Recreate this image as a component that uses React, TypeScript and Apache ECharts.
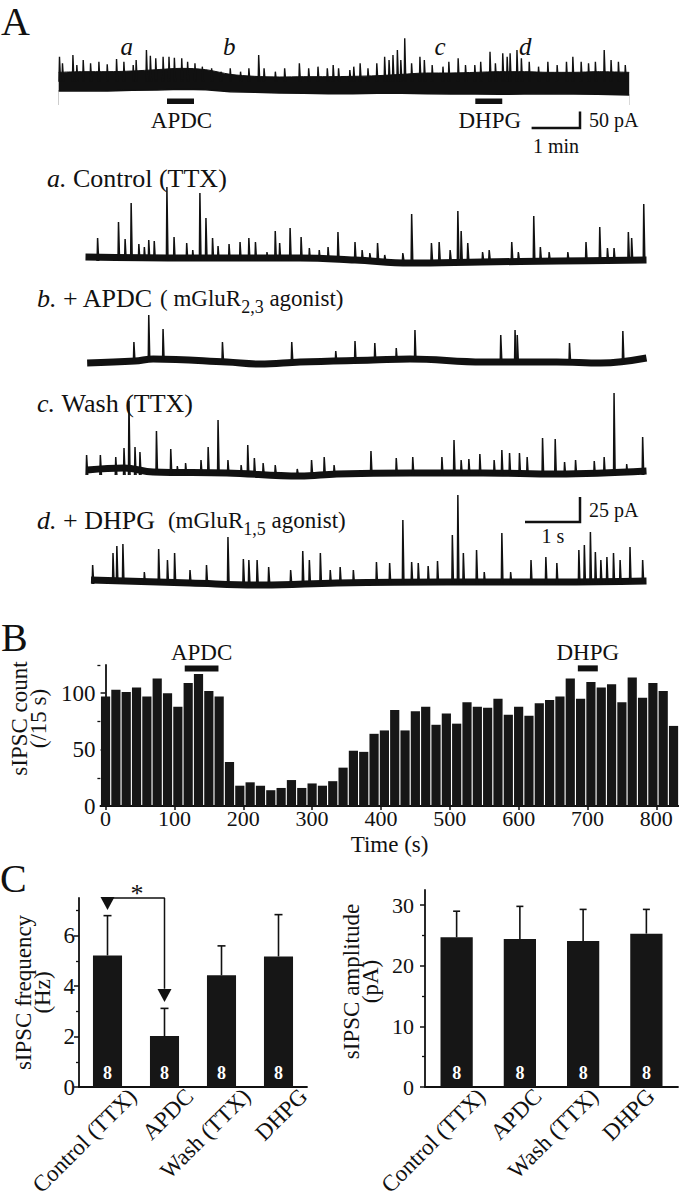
import React, { useEffect, useRef } from "react";
import * as echarts from "echarts";

const SERIF = "'Liberation Serif', 'Times New Roman', Times, serif";
const INK = "#111111";

// ---------------- Panel A: overview trace (time in min, amplitude in pA) ----------------
const overviewTime = [0, 0.5, 1, 1.5, 2, 2.5, 3, 3.5, 4, 4.5, 5, 5.5, 6, 6.5, 7, 7.5, 8, 8.5, 9, 9.5, 10, 10.5, 11, 11.64];
const overviewUpper = [68, 70, 70, 72, 76, 80, 76, 62, 56, 54, 55, 55, 56, 58, 62, 66, 66, 68, 70, 70, 68, 68, 70, 68];
const overviewLower = [12, 13, 12, 14, 15, 17, 16, 10, 8, 6, 5, 4, 4, 5, 5, 4, 3, 3, 2, 3, 4, 3, 2, 0];
const overviewSpikes = [
  [0.016, 115], [0.077, 95], [0.29, 120], [0.37, 90], [0.5, 105], [0.65, 95], [0.82, 100], [0.99, 92],
  [1.18, 108], [1.33, 100], [1.52, 90], [1.58, 105], [1.79, 135], [1.87, 118], [1.98, 110], [2.13, 115],
  [2.25, 115], [2.36, 112], [2.51, 110], [2.63, 100], [2.78, 95], [2.93, 85], [3.12, 80], [3.31, 70],
  [3.5, 80], [3.71, 70], [3.88, 80], [4.08, 120], [4.19, 80], [4.42, 70], [4.61, 80], [4.91, 95],
  [5.1, 80], [5.29, 85], [5.48, 80], [5.6, 90], [5.71, 80], [5.94, 75], [6.02, 85], [6.15, 95],
  [6.31, 80], [6.49, 95], [6.65, 115], [6.74, 105], [6.82, 120], [6.91, 135], [6.98, 105], [7.06, 170],
  [7.2, 95], [7.37, 115], [7.46, 105], [7.62, 90], [7.84, 85], [7.96, 100], [8.15, 110], [8.3, 90],
  [8.49, 90], [8.61, 100], [8.8, 130], [8.91, 95], [9.06, 125], [9.15, 115], [9.21, 125], [9.35, 135],
  [9.44, 110], [9.6, 100], [9.79, 85], [9.98, 100], [10.17, 90], [10.36, 100], [10.49, 115], [10.66, 100],
  [10.81, 95], [10.95, 100], [11.13, 135], [11.27, 105], [11.42, 100], [11.56, 90],
];
const overviewDrugNames = ["APDC", "DHPG"];
const overviewDrugStart = [2.21, 8.5];
const overviewDrugEnd = [2.76, 9.05];
const overviewMarks = ["a", "b", "c", "d"];
const overviewMarkTime = [1.39, 3.48, 7.78, 9.52];

// ---------------- Panel A: sweeps (time in s, amplitude in pA) ----------------
const sweepATime = [0, 1.9, 3.9, 4.9, 5.9, 7.2, 8.6, 10.2];
const sweepABase = [2, 1, 1, -1, -4, -3, -2, -1];
const sweepASpikes = [
  [0.22, 21], [0.6, 37], [0.72, 20], [0.83, 56], [0.97, 15], [1.07, 12], [1.15, 19], [1.25, 18], [1.48, 72],
  [1.61, 22], [1.84, 16], [1.95, 9], [2.08, 66], [2.19, 41], [2.31, 21], [2.41, 13], [2.61, 15], [2.81, 17],
  [2.97, 21], [3.09, 17], [3.3, 7], [3.45, 28], [3.53, 16], [3.72, 31], [3.92, 22], [4.07, 11], [4.25, 9],
  [4.41, 12], [4.59, 27], [4.9, 17], [5.03, 9], [5.17, 6], [5.31, 16], [5.44, 4], [5.77, 6], [5.93, 45],
  [6.29, 16], [6.43, 17], [6.63, 9], [6.77, 48], [6.83, 28], [6.95, 16], [7.22, 7], [7.34, 9], [7.75, 17],
  [7.87, 7], [8.15, 43], [8.27, 12], [8.43, 7], [8.77, 7], [9.1, 17], [9.35, 32], [9.49, 11], [9.61, 11],
  [9.87, 27], [9.93, 21], [10.15, 55],
];
const sweepBTime = [0.03, 0.9, 1.23, 2.57, 3.17, 3.9, 5.23, 5.9, 7.23, 8.57, 9.37, 10.2];
const sweepBBase = [-3, -1, 1, -2, -4, -2, 0, 1, -2, -2, -3, 2];
const sweepBSpikes = [
  [0.88, 18], [1.15, 45], [1.41, 31], [2.49, 18], [3.75, 18], [4.55, 9], [4.9, 19], [5.26, 17],
  [5.65, 12], [5.99, 30], [7.55, 25], [7.81, 30], [7.85, 25], [8.8, 17], [9.77, 29],
];
const sweepCTime = [0.03, 0.7, 1.23, 2.57, 3.9, 4.57, 5.9, 7.23, 8.57, 10.2];
const sweepCBase = [3, 5, 1, 0, -3, -1, 0, 0, -1, 2];
const sweepCSpikes = [
  [0.02, 18], [0.27, 18], [0.55, 16], [0.7, 25], [0.79, 72], [0.9, 26], [0.99, 21], [1.29, 42], [1.55, 24],
  [1.67, 7], [1.82, 10], [2.1, 13], [2.23, 26], [2.41, 53], [2.59, 13], [2.83, 8], [2.95, 28], [3.07, 15],
  [3.23, 10], [3.45, 8], [3.85, 4], [4.11, 13], [4.34, 16], [4.52, 8], [5.19, 22], [5.65, 15], [5.95, 16],
  [6.48, 16], [6.7, 33], [6.83, 13], [6.97, 14], [7.17, 19], [7.43, 13], [7.57, 23], [7.71, 20], [7.89, 20],
  [8.03, 16], [8.31, 35], [8.54, 34], [8.71, 11], [8.91, 13], [9.25, 12], [9.43, 16], [9.61, 80], [9.84, 9],
  [10.13, 36],
];
const sweepDTime = [0.1, 1.9, 3.23, 4.57, 6.57, 8.57, 10.2];
const sweepDBase = [2, -1, -3, -1, 0, 0, 1];
const sweepDSpikes = [
  [0.13, 17], [0.5, 29], [0.57, 36], [0.68, 38], [1.07, 10], [1.33, 33], [1.49, 22], [1.62, 29], [1.9, 12],
  [2.2, 17], [2.59, 45], [2.87, 23], [2.97, 22], [3.12, 22], [3.33, 15], [3.73, 12], [3.95, 31], [4.07, 22],
  [4.27, 29], [4.45, 12], [4.63, 15], [4.87, 12], [5.29, 20], [5.53, 19], [5.77, 62], [5.93, 20], [6.05, 19],
  [6.23, 16], [6.4, 21], [6.67, 47], [6.77, 87], [6.87, 29], [7.11, 32], [7.25, 10], [7.57, 49], [7.73, 10],
  [8.1, 22], [8.37, 25], [8.57, 19], [8.97, 32], [9.07, 37], [9.18, 50], [9.27, 30], [9.37, 22], [9.48, 25],
  [9.6, 29], [9.72, 22], [9.9, 35], [10.13, 22],
];

// ---------------- Panel B: histogram ----------------
const binCenters = [
  0, 15, 30, 45, 60, 75, 90, 105, 120, 135, 150, 165, 180, 195, 210, 225, 240, 255, 270, 285, 300, 315, 330, 345,
  360, 375, 390, 405, 420, 435, 450, 465, 480, 495, 510, 525, 540, 555, 570, 585, 600, 615, 630, 645, 660, 675,
  690, 705, 720, 735, 750, 765, 780, 795, 810, 825,
];
const binCounts = [
  97, 103, 101, 105, 97, 113, 100, 88, 109, 117, 102, 97, 39, 18, 21, 18, 14, 16, 23, 16, 20, 18, 22, 34,
  49, 48, 64, 67, 85, 67, 84, 88, 72, 82, 73, 92, 88, 87, 95, 81, 88, 80, 91, 94, 97, 113, 95, 110, 105, 108,
  92, 114, 96, 109, 102, 71,
];
const timeTicks = [0, 100, 200, 300, 400, 500, 600, 700, 800];
const countTicks = [0, 50, 100];
const countMinorTicks = [25, 75, 125];
const drugNamesB = ["APDC", "DHPG"];
const drugStartB = [115, 686];
const drugEndB = [164, 715];

// ---------------- Panel C ----------------
const conditions = ["Control (TTX)", "APDC", "Wash (TTX)", "DHPG"];
const freqMean = [5.22, 2.02, 4.43, 5.18];
const freqSem = [1.58, 1.1, 1.17, 1.66];
const ampMean = [24.7, 24.4, 24.1, 25.3];
const ampSem = [4.3, 5.4, 5.2, 4.0];
const nCells = [8, 8, 8, 8];
const freqTicks = [0, 2, 4, 6];
const freqMinorTicks = [1, 3, 5, 7];
const ampTicks = [0, 10, 20, 30];
const ampMinorTicks = [5, 15, 25];
const sigPair = [0, 1];

// ---------------- helpers ----------------
const zip = (xs: number[], ys: number[]) => xs.map((x, i) => [x, ys[i]]);

function spikeSeries(xi: number, data: number[][], foot: number, width: number) {
  return {
    type: "custom",
    xAxisIndex: xi,
    yAxisIndex: xi,
    clip: false,
    silent: true,
    z: 4,
    data,
    renderItem: (_p: any, api: any) => {
      const t = api.value(0);
      const peak = api.value(1);
      const a = api.coord([t, foot]);
      const b = api.coord([t, peak]);
      return {
        type: "polyline",
        shape: { points: [[a[0] - 0.5, a[1]], [b[0], b[1]], [b[0] + 1.1, a[1]]] },
        style: { stroke: INK, lineWidth: width, fill: null },
      };
    },
  };
}

function baseSeries(xi: number, t: number[], v: number[], width: number) {
  return {
    type: "line",
    xAxisIndex: xi,
    yAxisIndex: xi,
    data: zip(t, v),
    symbol: "none",
    smooth: 0.4,
    silent: true,
    lineStyle: { color: INK, width, join: "round" },
  };
}

function errSeries(xi: number, mean: number[], sem: number[], cap: number) {
  return {
    type: "custom",
    xAxisIndex: xi,
    yAxisIndex: xi,
    clip: false,
    silent: true,
    z: 3,
    data: mean.map((m, i) => [i, m, sem[i]]),
    renderItem: (_p: any, api: any) => {
      const i = api.value(0);
      const m = api.value(1);
      const e = api.value(2);
      const b = api.coord([i, m]);
      const t = api.coord([i, m + e]);
      return {
        type: "group",
        children: [
          { type: "line", shape: { x1: b[0], y1: b[1], x2: t[0], y2: t[1] }, style: { stroke: INK, lineWidth: 1.6 } },
          { type: "line", shape: { x1: t[0] - cap, y1: t[1], x2: t[0] + cap, y2: t[1] }, style: { stroke: INK, lineWidth: 1.6 } },
        ],
      };
    },
  };
}

const axisLineStyle = { color: INK, width: 1.8 };
const labelFont = { fontFamily: SERIF, color: INK };

function hiddenAxes(i: number, xmin: number, xmax: number, ymin: number, ymax: number) {
  return {
    x: { type: "value", gridIndex: i, min: xmin, max: xmax, show: false },
    y: { type: "value", gridIndex: i, min: ymin, max: ymax, show: false },
  };
}

function txt(text: string, x: number, y: number, size: number, opts: any = {}) {
  const style = opts.italic ? "italic " : "";
  const weight = opts.bold ? "bold " : "";
  const align = opts.align || "left";
  const valign = opts.valign || "middle";
  return {
    type: "text",
    x,
    y,
    silent: true,
    style: {
      text,
      font: `${style}${weight}${size}px ${SERIF}`,
      fill: opts.fill || INK,
      align,
      verticalAlign: valign,
      textAlign: align,
      textVerticalAlign: valign,
    },
  };
}

const richStyles = {
  i: { fontFamily: SERIF, fontStyle: "italic", fontSize: 26, lineHeight: 26, color: INK },
  m: { fontFamily: SERIF, fontSize: 26, lineHeight: 26, color: INK },
  s: { fontFamily: SERIF, fontSize: 23, lineHeight: 26, color: INK },
  sub: { fontFamily: SERIF, fontSize: 18, lineHeight: 18, padding: [17, 0, 0, 0], color: INK },
};

function richTxt(text: string, x: number, y: number) {
  return {
    type: "text",
    x,
    y,
    silent: true,
    style: {
      text,
      rich: richStyles,
      font: `26px ${SERIF}`,
      fill: INK,
      align: "left",
      verticalAlign: "middle",
      textAlign: "left",
      textVerticalAlign: "middle",
    },
  };
}

function buildOption() {
  const ov = hiddenAxes(0, 0, 11.64, -30, 180);
  const sa = hiddenAxes(1, 0, 10.2, -15, 80);
  const sb = hiddenAxes(2, 0, 10.2, -15, 50);
  const sc = hiddenAxes(3, 0, 10.2, -15, 85);
  const sd = hiddenAxes(4, 0, 10.2, -15, 90);

  const catAxisBars = (gi: number) => ({
    type: "category",
    gridIndex: gi,
    data: conditions,
    boundaryGap: true,
    axisLine: { lineStyle: axisLineStyle },
    axisTick: { show: false },
    axisLabel: { show: false },
  });
  const catAxisLabels = (gi: number) => ({
    type: "category",
    gridIndex: gi,
    data: conditions,
    boundaryGap: true,
    axisLine: { show: false },
    axisTick: { show: false },
    axisLabel: { interval: 0, rotate: 45, margin: 9, fontSize: 23, ...labelFont },
  });

  const valueY = (gi: number, max: number, ticks: number[], margin: number, name: string, nameGap: number, namePad: number[], size: number) => ({
    type: "value",
    gridIndex: gi,
    min: 0,
    max,
    splitLine: { show: false },
    axisLine: { show: true, lineStyle: axisLineStyle },
    axisTick: { show: true, customValues: ticks, length: 5, lineStyle: { color: INK, width: 1.5 } },
    axisLabel: { customValues: ticks, margin, fontSize: size, ...labelFont },
    name,
    nameLocation: "middle",
    nameRotate: 90,
    nameGap,
    nameTextStyle: { fontSize: 23, lineHeight: 19, padding: namePad, ...labelFont },
  });
  const minorY = (gi: number, max: number, ticks: number[]) => ({
    type: "value",
    gridIndex: gi,
    min: 0,
    max,
    position: "left",
    splitLine: { show: false },
    axisLine: { show: false },
    axisTick: { show: true, customValues: ticks, length: 3, lineStyle: { color: INK, width: 1.3 } },
    axisLabel: { show: false },
  });

  return {
    animation: false,
    backgroundColor: "#ffffff",
    grid: [
      { left: 58.7, top: 35, width: 570.5, height: 70 },
      { left: 85.5, top: 179, width: 561, height: 95 },
      { left: 85.5, top: 310, width: 561, height: 65 },
      { left: 85.5, top: 388, width: 561, height: 100 },
      { left: 85.5, top: 492, width: 561, height: 105 },
      { left: 89.7, top: 665, width: 589, height: 141 },
      { left: 79, top: 898, width: 228, height: 189 },
      { left: 425, top: 890, width: 253, height: 197 },
      { left: 104, top: 898, width: 228, height: 189 },
      { left: 453, top: 890, width: 253, height: 197 },
    ],
    xAxis: [
      ov.x, sa.x, sb.x, sc.x, sd.x,
      {
        type: "value",
        gridIndex: 5,
        min: -7.5,
        max: 832.5,
        splitLine: { show: false },
        axisLine: { lineStyle: axisLineStyle },
        axisTick: { customValues: timeTicks, length: 4, lineStyle: { color: INK, width: 1.5 } },
        axisLabel: { customValues: timeTicks, margin: 1, fontSize: 22, ...labelFont },
        name: "Time (s)",
        nameLocation: "middle",
        nameGap: 27,
        nameTextStyle: { fontSize: 23, ...labelFont },
      },
      catAxisBars(6),
      catAxisBars(7),
      catAxisLabels(8),
      catAxisLabels(9),
    ],
    yAxis: [
      ov.y, sa.y, sb.y, sc.y, sd.y,
      valueY(5, 125, countTicks, 5, "sIPSC count\n(/15 s)", 36, [0, 0, 0, 34], 23),
      valueY(6, 7.5, freqTicks, 4, "sIPSC frequency\n(Hz)", 27, [0, 0, 0, 0], 23),
      valueY(7, 32.5, ampTicks, 11, "sIPSC amplitude\n(pA)", 45, [0, 0, 0, 14], 22),
      { type: "value", gridIndex: 8, show: false, min: 0, max: 7.5 },
      { type: "value", gridIndex: 9, show: false, min: 0, max: 32.5 },
      minorY(5, 125, countMinorTicks),
      minorY(6, 7.5, freqMinorTicks),
      minorY(7, 32.5, ampMinorTicks),
    ],
    series: [
      // overview band
      {
        type: "line", xAxisIndex: 0, yAxisIndex: 0, symbol: "none", silent: true, z: 1, smooth: 0.3,
        data: zip(overviewTime, overviewUpper),
        lineStyle: { color: INK, width: 1 },
        areaStyle: { color: INK, opacity: 1, origin: "start" },
      },
      {
        type: "line", xAxisIndex: 0, yAxisIndex: 0, symbol: "none", silent: true, z: 2,
        data: zip(overviewTime, overviewLower),
        lineStyle: { color: INK, width: 1.5 },
        areaStyle: { color: "#ffffff", opacity: 1, origin: "start" },
      },
      spikeSeries(0, overviewSpikes, 40, 1.4),
      {
        type: "custom", xAxisIndex: 0, yAxisIndex: 0, clip: false, silent: true, z: 10,
        data: overviewDrugStart.map((s, i) => [s, overviewDrugEnd[i]]),
        renderItem: (p: any, api: any) => {
          const a = api.coord([api.value(0), -18]);
          const b = api.coord([api.value(1), -18]);
          return {
            type: "group",
            children: [
              { type: "rect", shape: { x: a[0], y: a[1] - 2.5, width: b[0] - a[0], height: 5.5 }, style: { fill: INK } },
              txt(overviewDrugNames[p.dataIndex], (a[0] + b[0]) / 2 + 1, a[1] + 19, 23, { align: "center" }),
            ],
          };
        },
      },
      {
        type: "custom", xAxisIndex: 0, yAxisIndex: 0, clip: false, silent: true, z: 10,
        data: overviewMarkTime.map((t) => [t, 146]),
        renderItem: (p: any, api: any) => {
          const a = api.coord([api.value(0), api.value(1)]);
          return txt(overviewMarks[p.dataIndex], a[0], a[1], 25, { italic: true, align: "center" });
        },
      },
      // sweeps
      baseSeries(1, sweepATime, sweepABase, 7),
      spikeSeries(1, sweepASpikes, -2, 1.5),
      baseSeries(2, sweepBTime, sweepBBase, 7),
      spikeSeries(2, sweepBSpikes, -2, 1.5),
      baseSeries(3, sweepCTime, sweepCBase, 7),
      spikeSeries(3, sweepCSpikes, -2, 1.5),
      baseSeries(4, sweepDTime, sweepDBase, 7),
      spikeSeries(4, sweepDSpikes, -2, 1.5),
      // B
      {
        type: "bar", xAxisIndex: 5, yAxisIndex: 5, silent: true,
        data: zip(binCenters, binCounts),
        barWidth: 9.2,
        itemStyle: { color: "#161616" },
      },
      {
        type: "custom", xAxisIndex: 5, yAxisIndex: 5, clip: false, silent: true, z: 5,
        data: drugStartB.map((s, i) => [s, drugEndB[i]]),
        renderItem: (p: any, api: any) => {
          const a = api.coord([api.value(0), 122]);
          const b = api.coord([api.value(1), 122]);
          return {
            type: "group",
            children: [
              { type: "rect", shape: { x: a[0], y: a[1] - 3, width: b[0] - a[0], height: 6 }, style: { fill: INK } },
              txt(drugNamesB[p.dataIndex], (a[0] + b[0]) / 2, a[1] - 16, 23, { align: "center" }),
            ],
          };
        },
      },
      // C frequency
      {
        type: "bar", xAxisIndex: 6, yAxisIndex: 6, silent: true,
        data: freqMean,
        barWidth: "51%",
        itemStyle: { color: "#161616" },
        label: {
          show: true, position: "insideBottom", distance: 5,
          formatter: (p: any) => String(nCells[p.dataIndex]),
          color: "#ffffff", fontWeight: "bold", fontSize: 18, fontFamily: SERIF,
        },
      },
      errSeries(6, freqMean, freqSem, 4),
      {
        type: "line", xAxisIndex: 6, yAxisIndex: 6, symbol: "none", silent: true, clip: false,
        data: [[sigPair[0], 7.5], [sigPair[1], 7.5], [sigPair[1], 3.9]],
        lineStyle: { color: INK, width: 1.5 },
      },
      {
        type: "scatter", xAxisIndex: 6, yAxisIndex: 6, silent: true, clip: false,
        symbol: "triangle", symbolRotate: 180, symbolSize: [14, 13],
        data: [[sigPair[0], 7.28], [sigPair[1], 3.63]],
        itemStyle: { color: INK, opacity: 1 },
      },
      // C amplitude
      {
        type: "bar", xAxisIndex: 7, yAxisIndex: 7, silent: true,
        data: ampMean,
        barWidth: "51%",
        itemStyle: { color: "#161616" },
        label: {
          show: true, position: "insideBottom", distance: 5,
          formatter: (p: any) => String(nCells[p.dataIndex]),
          color: "#ffffff", fontWeight: "bold", fontSize: 18, fontFamily: SERIF,
        },
      },
      errSeries(7, ampMean, ampSem, 3.5),
    ],
    graphic: {
      elements: [
        txt("A", 1, 21, 40),
        txt("B", 1, 637, 40),
        txt("C", 0, 878, 40),
        // overview scale bar
        { type: "polyline", silent: true, shape: { points: [[531.6, 128], [580, 128], [580, 111.5]] }, style: { stroke: INK, lineWidth: 2.5, fill: null } },
        txt("50 pA", 589, 120, 20),
        txt("1 min", 556, 146, 20, { align: "center" }),
        // sweep labels
        richTxt("{i|a.} {m|Control (TTX)}", 47, 178),
        richTxt("{i|b.} {m|+ APDC} {s|( mGluR}{sub|2,3}{s| agonist)}", 37, 298),
        richTxt("{i|c.} {m|Wash (TTX)}", 37, 403),
        richTxt("{i|d.} {m|+ DHPG}  {s|(mGluR}{sub|1,5}{s| agonist)}", 37, 520),
        // sweep scale bar
        { type: "polyline", silent: true, shape: { points: [[525, 522], [580, 522], [580, 497]] }, style: { stroke: INK, lineWidth: 2.5, fill: null } },
        txt("25 pA", 589, 510, 20),
        txt("1 s", 553, 536, 20, { align: "center" }),
        // significance star
        txt("*", 137, 893, 26, { align: "center" }),
      ],
    },
  };
}

export default function App() {
  const ref = useRef<HTMLDivElement>(null);
  useEffect(() => {
    const chart = echarts.init(ref.current as HTMLDivElement, null, { renderer: "svg", width: 679, height: 1199 });
    chart.setOption(buildOption() as any);
    return () => chart.dispose();
  }, []);
  return (
    <div
      ref={ref}
      style={{ position: "absolute", left: 0, top: 0, width: 679, height: 1199, background: "#ffffff" }}
    />
  );
}
